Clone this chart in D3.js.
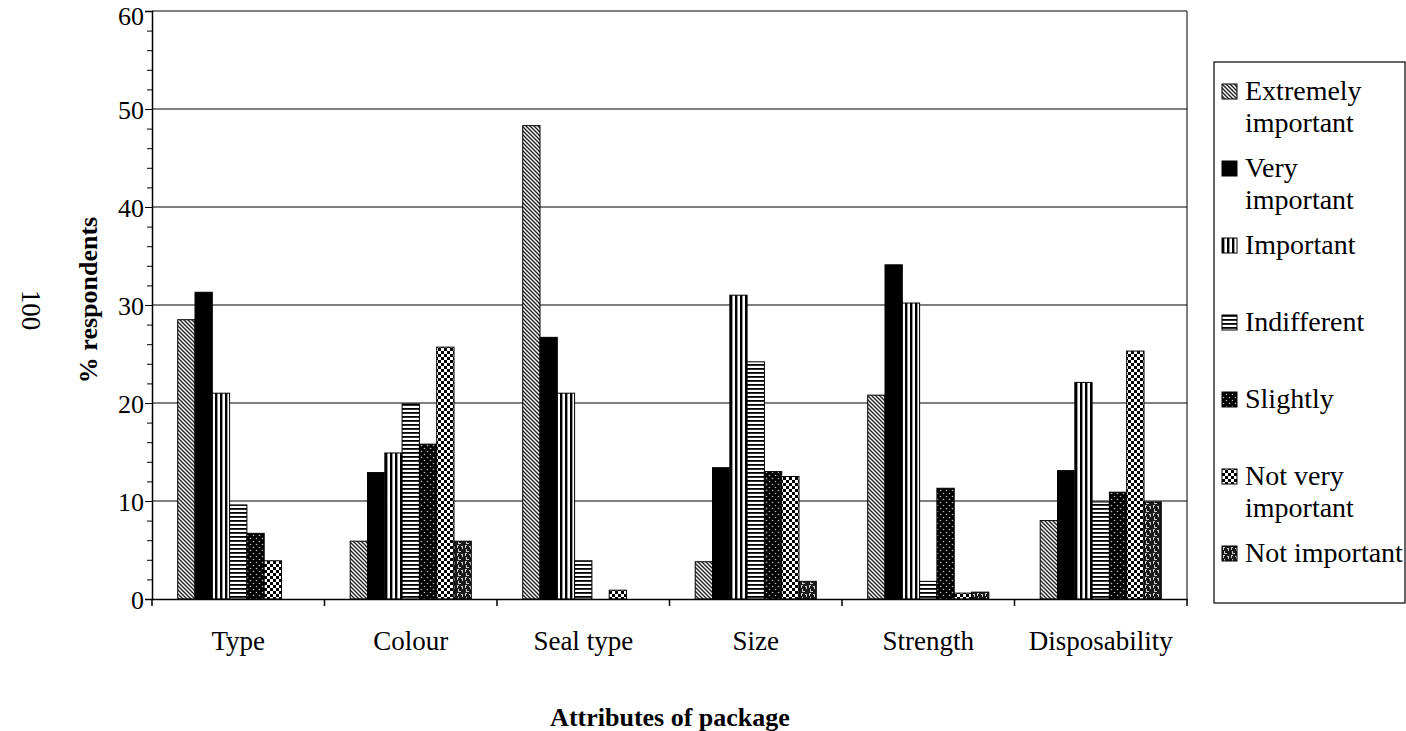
<!DOCTYPE html>
<html>
<head>
<meta charset="utf-8">
<script src="https://cdn.jsdelivr.net/npm/d3@7"></script>
<style>
  html, body { margin: 0; padding: 0; background: #fff; }
  svg { display: block; }
  text { font-family: "Liberation Serif", "DejaVu Serif", serif; fill: #000; }
</style>
</head>
<body>
<svg id="chart" width="1406" height="731"></svg>
<script>
// Package attributes rated by respondents (% of respondents per rating)
const categories = ["Type", "Colour", "Seal type", "Size", "Strength", "Disposability"];
const series = ["Extremely important", "Very important", "Important", "Indifferent",
                "Slightly", "Not very important", "Not important"];
const extremelyImportant = [28.5, 5.9, 48.3, 3.8, 20.8, 8.0];
const veryImportant      = [31.3, 12.9, 26.7, 13.4, 34.1, 13.1];
const important          = [21.0, 14.9, 21.0, 31.0, 30.2, 22.1];
const indifferent        = [9.6, 19.9, 3.9, 24.2, 1.8, 9.9];
const slightly           = [6.7, 15.8, 0, 13.0, 11.3, 10.9];
const notVeryImportant   = [3.9, 25.7, 0.9, 12.5, 0.6, 25.3];
const notImportant       = [0, 5.9, 0, 1.8, 0.7, 9.9];
const yTicks = [0, 10, 20, 30, 40, 50, 60];
const legendLines = [["Extremely", "important"], ["Very", "important"], ["Important"],
                     ["Indifferent"], ["Slightly"], ["Not very", "important"], ["Not important"]];

const values = [extremelyImportant, veryImportant, important, indifferent,
                slightly, notVeryImportant, notImportant];

const svg = d3.select("#chart");
const plotLeft = 152, plotRight = 1187, plotTop = 11, plotBottom = 599;
const fontSize = 27;

// ---- fill patterns for the seven ratings ----
const defs = svg.append("defs");
function pattern(id, w, h, build) {
  const p = defs.append("pattern").attr("id", id).attr("patternUnits", "userSpaceOnUse")
    .attr("width", w).attr("height", h);
  build(p);
}
pattern("pExt", 4, 4, p => {
  p.append("rect").attr("width", 4).attr("height", 4).attr("fill", "#fff");
  p.append("path").attr("d", "M-1,-1L5,5M-1,3L1,5M3,-1L5,1")
    .attr("stroke", "#222").attr("stroke-width", 1.4);
});
pattern("pImp", 5, 10, p => {
  p.append("rect").attr("width", 5).attr("height", 10).attr("fill", "#fff");
  p.append("rect").attr("width", 2.4).attr("height", 10).attr("fill", "#000");
});
pattern("pInd", 4, 4, p => {
  p.append("rect").attr("width", 4).attr("height", 4).attr("fill", "#fff");
  p.append("rect").attr("width", 4).attr("height", 1.8).attr("fill", "#000");
});
pattern("pSli", 6, 6, p => {
  p.append("rect").attr("width", 6).attr("height", 6).attr("fill", "#000");
  p.append("circle").attr("cx", 1.5).attr("cy", 1.5).attr("r", 0.8).attr("fill", "#bbb");
  p.append("circle").attr("cx", 4.5).attr("cy", 4.5).attr("r", 0.8).attr("fill", "#bbb");
});
pattern("pNotV", 6, 6, p => {
  p.append("rect").attr("width", 6).attr("height", 6).attr("fill", "#fff");
  p.append("rect").attr("width", 3).attr("height", 3).attr("fill", "#000");
  p.append("rect").attr("x", 3).attr("y", 3).attr("width", 3).attr("height", 3).attr("fill", "#000");
});
pattern("pNotI", 8, 8, p => {
  p.append("rect").attr("width", 8).attr("height", 8).attr("fill", "#1a1a1a");
  p.append("path").attr("d", "M1,1h2v1h-1v2h-1zM5,2h2v3h-1v-2h-1zM2,5h1v2h2v1h-3z")
    .attr("fill", "#ccc");
});
const fills = ["url(#pExt)", "#000", "url(#pImp)", "url(#pInd)",
               "url(#pSli)", "url(#pNotV)", "url(#pNotI)"];

// ---- scales ----
const x0 = d3.scaleBand().domain(categories).range([plotLeft, plotRight]).paddingInner(0).paddingOuter(0);
const bw = x0.bandwidth();
const x1 = d3.scaleBand().domain(series).range([bw * 0.149, bw * 0.851]).padding(0);
const y = d3.scaleLinear().domain([0, 60]).range([plotBottom, plotTop]);

// ---- gridlines and plot frame ----
svg.append("g").selectAll("line").data(yTicks.filter(t => t > 0)).join("line")
  .attr("x1", plotLeft).attr("x2", plotRight)
  .attr("y1", d => y(d)).attr("y2", d => y(d))
  .attr("stroke", "#000").attr("stroke-width", 1);
svg.append("line").attr("x1", plotRight).attr("x2", plotRight).attr("y1", plotTop).attr("y2", plotBottom)
  .attr("stroke", "#000").attr("stroke-width", 1);

// ---- bars ----
const rows = [];
categories.forEach((c, ci) => series.forEach((s, si) => {
  rows.push({ c, s, si, v: values[si][ci] });
}));
svg.append("g").selectAll("rect").data(rows.filter(d => d.v > 0)).join("rect")
  .attr("x", d => x0(d.c) + x1(d.s))
  .attr("width", x1.bandwidth())
  .attr("y", d => y(d.v))
  .attr("height", d => y(0) - y(d.v))
  .attr("fill", d => fills[d.si])
  .attr("stroke", "#000").attr("stroke-width", 1);

// ---- y axis ----
const yAxis = svg.append("g").attr("transform", `translate(${plotLeft},0)`)
  .call(d3.axisLeft(y).tickValues(yTicks).tickSize(7).tickPadding(1).tickFormat(d3.format("d")));
yAxis.select(".domain").attr("stroke-width", 1.5);
// the topmost label sits a little lower so it stays inside the page
yAxis.selectAll("text").attr("font-size", 26).attr("font-family", "Liberation Serif")
  .attr("dy", d => d === 60 ? "0.5em" : "0.38em");
svg.append("g").attr("transform", `translate(${plotLeft},0)`)
  .call(d3.axisLeft(y).tickValues(d3.range(0, 61, 2).filter(v => v % 10 !== 0)).tickSize(5).tickFormat(""))
  .call(g => g.select(".domain").remove());

// ---- x axis ----
const xAxis = svg.append("g").attr("transform", `translate(0,${plotBottom})`)
  .call(d3.axisBottom(x0).tickSize(0));
xAxis.select(".domain").attr("stroke-width", 1.5);
xAxis.selectAll("text").attr("font-size", fontSize).attr("font-family", "Liberation Serif")
  .attr("dy", 0).attr("y", 51);
svg.append("g").selectAll("line").data(categories.map(c => x0(c)).concat([plotRight])).join("line")
  .attr("x1", d => d).attr("x2", d => d).attr("y1", plotBottom).attr("y2", plotBottom + 7)
  .attr("stroke", "#000").attr("stroke-width", 1.5);

// ---- axis titles ----
svg.append("text").attr("x", 670).attr("y", 726).attr("text-anchor", "middle")
  .attr("font-size", 26).attr("font-weight", "bold").text("Attributes of package");
svg.append("text").attr("transform", "translate(97,300) rotate(-90)").attr("text-anchor", "middle")
  .attr("font-size", 26).attr("font-weight", "bold").text("% respondents");
svg.append("text").attr("transform", "translate(22,310) rotate(90)").attr("text-anchor", "middle")
  .attr("font-size", fontSize).text("100");

// ---- legend ----
svg.append("rect").attr("x", 1214).attr("y", 62).attr("width", 191).attr("height", 541)
  .attr("fill", "none").attr("stroke", "#000").attr("stroke-width", 1.2);
const leg = svg.append("g").selectAll("g").data(series).join("g")
  .attr("transform", (d, i) => `translate(1222,${100 + i * 77})`);
leg.append("rect").attr("x", 0).attr("y", -16).attr("width", 15).attr("height", 15)
  .attr("fill", (d, i) => fills[i]).attr("stroke", "#000").attr("stroke-width", 1);
leg.append("text").attr("x", 23).attr("font-size", 28)
  .selectAll("tspan").data((d, i) => legendLines[i]).join("tspan")
  .attr("x", 23).attr("dy", (d, j) => j === 0 ? 0 : 32).text(d => d);
</script>
</body>
</html>
